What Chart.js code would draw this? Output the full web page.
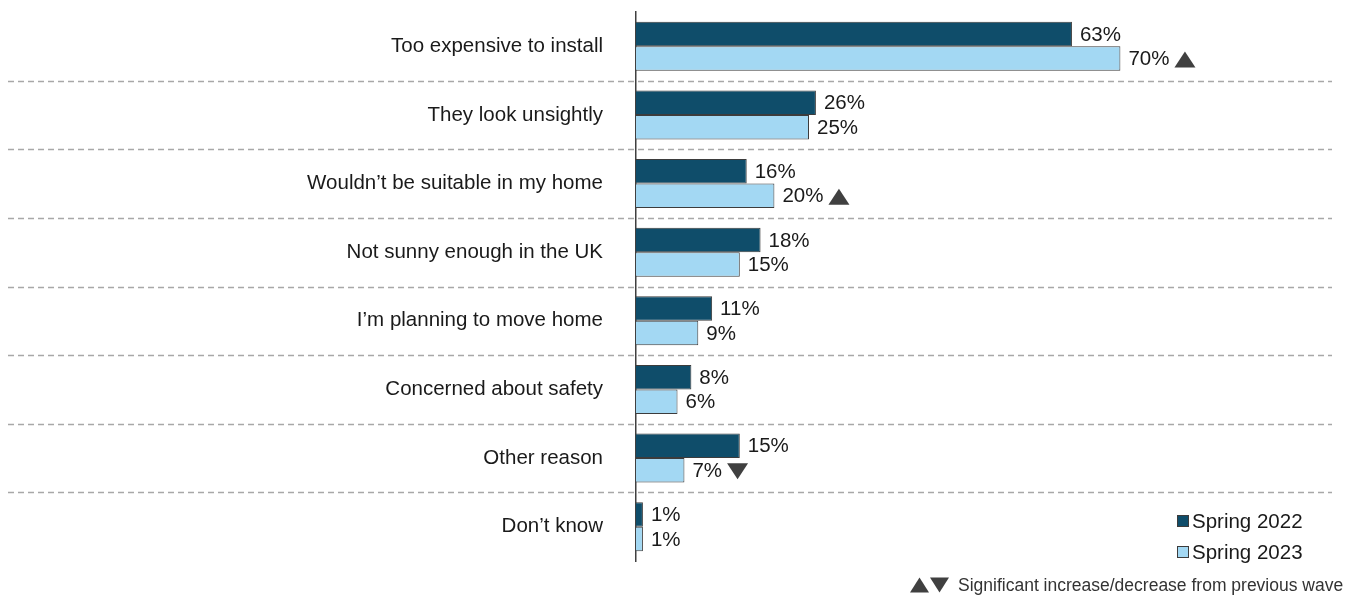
<!DOCTYPE html>
<html>
<head>
<meta charset="utf-8">
<script src="https://cdn.jsdelivr.net/npm/chart.js@4/dist/chart.umd.min.js"></script>
<style>
  html, body { margin: 0; padding: 0; background: #ffffff; }
  #c { display: block; }
</style>
</head>
<body>
<canvas id="c" width="1356" height="596"></canvas>
<script>
// Reasons for not installing solar panels, two survey waves (% of respondents)
const categories = [
  'Too expensive to install',
  'They look unsightly',
  'Wouldn\u2019t be suitable in my home',
  'Not sunny enough in the UK',
  'I\u2019m planning to move home',
  'Concerned about safety',
  'Other reason',
  'Don\u2019t know'
];
const seriesNames = ['Spring 2022', 'Spring 2023'];
const spring2022 = [63, 26, 16, 18, 11, 8, 15, 1];
const spring2023 = [70, 25, 20, 15, 9, 6, 7, 1];
// Significant change in Spring 2023 versus the previous wave
const change2023 = ['up', null, 'up', null, null, null, 'down', null];
const footnote = 'Significant increase/decrease from previous wave';

const FONT = '"Liberation Sans", Arial, sans-serif';
const DARK = '#0f4d6a';
const LIGHT = '#a3d8f3';
const EDGE = '#3c3c3c';
const TEXT = '#1a1a1a';
const MARK = '#404040';

function triangle(ctx, x, yMid, w, h, up) {
  ctx.beginPath();
  if (up) {
    ctx.moveTo(x, yMid + h / 2);
    ctx.lineTo(x + w / 2, yMid - h / 2);
    ctx.lineTo(x + w, yMid + h / 2);
  } else {
    ctx.moveTo(x, yMid - h / 2);
    ctx.lineTo(x + w / 2, yMid + h / 2);
    ctx.lineTo(x + w, yMid - h / 2);
  }
  ctx.closePath();
  ctx.fill();
}

const overlay = {
  id: 'overlay',
  beforeDatasetsDraw(chart) {
    // dashed separators between categories, running under the labels too
    const ctx = chart.ctx;
    const y = chart.scales.y;
    ctx.save();
    ctx.strokeStyle = '#a8a8a8';
    ctx.lineWidth = 1.5;
    ctx.setLineDash([6, 4]);
    for (let i = 1; i < categories.length; i++) {
      const py = Math.round((y.getPixelForValue(i - 1) + y.getPixelForValue(i)) / 2) + 0.5;
      ctx.beginPath();
      ctx.moveTo(8, py);
      ctx.lineTo(1332, py);
      ctx.stroke();
    }
    ctx.restore();
  },
  afterDatasetsDraw(chart) {
    // value labels plus significance arrows
    const ctx = chart.ctx;
    ctx.save();
    ctx.font = '20.5px ' + FONT;
    ctx.textBaseline = 'middle';
    ctx.textAlign = 'left';
    chart.data.datasets.forEach((ds, di) => {
      const meta = chart.getDatasetMeta(di);
      meta.data.forEach((bar, i) => {
        const label = ds.data[i] + '%';
        const tx = bar.x + 8;
        ctx.fillStyle = TEXT;
        ctx.fillText(label, tx, bar.y + 1);
        if (di === 1 && change2023[i]) {
          const w = ctx.measureText(label).width;
          ctx.fillStyle = MARK;
          triangle(ctx, tx + w + 5, bar.y + 1, 21, 16, change2023[i] === 'up');
        }
      });
    });
    ctx.restore();
  },
  afterDraw(chart) {
    const ctx = chart.ctx;
    ctx.save();
    // legend
    const colors = [DARK, LIGHT];
    const rows = [521, 552];
    ctx.font = '20.5px ' + FONT;
    ctx.textBaseline = 'middle';
    ctx.textAlign = 'left';
    seriesNames.forEach((name, i) => {
      ctx.fillStyle = colors[i];
      ctx.fillRect(1177, rows[i] - 6, 12, 12);
      ctx.strokeStyle = EDGE;
      ctx.lineWidth = 1;
      ctx.strokeRect(1177.5, rows[i] - 5.5, 11, 11);
      ctx.fillStyle = TEXT;
      ctx.fillText(name, 1192, rows[i] + 1);
    });
    // footnote
    ctx.fillStyle = MARK;
    triangle(ctx, 910, 585, 19, 15, true);
    triangle(ctx, 930, 585, 19, 15, false);
    ctx.fillStyle = '#333333';
    ctx.font = '17.5px ' + FONT;
    ctx.fillText(footnote, 958, 586);
    ctx.restore();
  }
};

new Chart(document.getElementById('c'), {
  type: 'bar',
  data: {
    labels: categories,
    datasets: [
      {
        label: seriesNames[0],
        data: spring2022,
        backgroundColor: DARK,
        borderColor: EDGE,
        borderWidth: 1,
        categoryPercentage: 0.714,
        barPercentage: 1
      },
      {
        label: seriesNames[1],
        data: spring2023,
        backgroundColor: LIGHT,
        borderColor: EDGE,
        borderWidth: 1,
        categoryPercentage: 0.714,
        barPercentage: 1
      }
    ]
  },
  options: {
    indexAxis: 'y',
    responsive: false,
    animation: false,
    devicePixelRatio: 1,
    layout: { padding: { top: 12, bottom: 35, left: 0, right: 28 } },
    plugins: {
      legend: { display: false },
      tooltip: { enabled: false }
    },
    scales: {
      x: {
        display: false,
        min: 0,
        max: 100
      },
      y: {
        grid: { display: false, drawTicks: false },
        border: { display: true, color: MARK, width: 1.5 },
        ticks: {
          color: TEXT,
          padding: 33,
          font: { family: FONT, size: 20.5 }
        },
        afterFit(scale) {
          scale.width = 636;
          scale.paddingTop = 0;
          scale.paddingBottom = 0;
        }
      }
    }
  },
  plugins: [overlay]
});
</script>
</body>
</html>
